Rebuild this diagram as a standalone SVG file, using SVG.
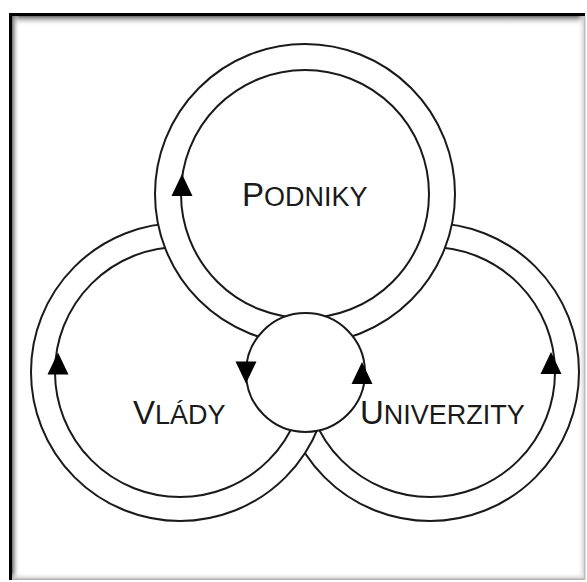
<svg xmlns="http://www.w3.org/2000/svg" width="587" height="582" viewBox="0 0 587 582">
  <defs>
    <style>
      .ring { fill: #ffffff; stroke: #1a1a1a; stroke-width: 2; }
      .inner { fill: none; stroke: #1a1a1a; stroke-width: 2; }
      .lbl { font-family: "Liberation Sans", Arial, sans-serif; fill: #1a1a1a; font-size: 27px; }
      .cap { font-size: 33px; }
      .arrow { fill: #000000; }
    </style>
    <path id="tri" d="M0,-11 L10.5,11 L-10.5,11 Z"/>
    <linearGradient id="gTop" x1="0" y1="0" x2="0" y2="1">
      <stop offset="0" stop-color="#6a6a6a"/>
      <stop offset="1" stop-color="#ffffff" stop-opacity="0"/>
    </linearGradient>
    <linearGradient id="gLeft" x1="0" y1="0" x2="1" y2="0">
      <stop offset="0" stop-color="#6a6a6a"/>
      <stop offset="1" stop-color="#ffffff" stop-opacity="0"/>
    </linearGradient>
    <linearGradient id="gRight" x1="1" y1="0" x2="0" y2="0">
      <stop offset="0" stop-color="#c8c8c8"/>
      <stop offset="1" stop-color="#ffffff" stop-opacity="0"/>
    </linearGradient>
    <linearGradient id="gBottom" x1="0" y1="1" x2="0" y2="0">
      <stop offset="0" stop-color="#c0c0c0"/>
      <stop offset="1" stop-color="#ffffff" stop-opacity="0"/>
    </linearGradient>
  </defs>

  <g id="frame">
    <rect x="0" y="0" width="587" height="582" fill="#ffffff"/>
    <rect x="9" y="13" width="576" height="567" fill="#ffffff"/>
    <rect x="12" y="16" width="573" height="10" fill="url(#gTop)"/>
    <rect x="12" y="16" width="8" height="564" fill="url(#gLeft)"/>
    <rect x="577" y="16" width="8" height="564" fill="url(#gRight)"/>
    <rect x="12" y="572" width="573" height="8" fill="url(#gBottom)"/>
    <rect x="9" y="13" width="576" height="3" fill="#000000"/>
    <rect x="9" y="13" width="3" height="567" fill="#000000"/>
    <rect x="584" y="16" width="1.5" height="564" fill="#bdbdbd"/>
    <rect x="12" y="578.5" width="573" height="1.5" fill="#b5b5b5"/>
  </g>

  <g id="univerzity">
    <circle class="ring" cx="430" cy="372" r="149"/>
    <circle class="inner" cx="430" cy="372" r="125"/>
    <text class="lbl" x="360" y="424"><tspan class="cap">U</tspan>NIVERZITY</text>
  </g>

  <g id="vlady">
    <circle class="ring" cx="180" cy="372" r="149"/>
    <circle class="inner" cx="180" cy="372" r="125"/>
    <text class="lbl" x="133" y="424"><tspan class="cap">V</tspan>LÁDY</text>
  </g>

  <g id="podniky">
    <circle class="ring" cx="305" cy="194" r="150"/>
    <circle class="inner" cx="305" cy="194" r="124"/>
    <text class="lbl" x="242" y="206"><tspan class="cap">P</tspan>ODNIKY</text>
  </g>

  <g id="center">
    <circle class="ring" cx="305.5" cy="372.5" r="59.5"/>
  </g>

  <g id="connectors" class="arrow">
    <use href="#tri" transform="translate(182,185)"/>
    <use href="#tri" transform="translate(58,363.5)"/>
    <use href="#tri" transform="translate(246,372.5) rotate(180)"/>
    <use href="#tri" transform="translate(362,373)"/>
    <use href="#tri" transform="translate(551,363)"/>
  </g>
</svg>
